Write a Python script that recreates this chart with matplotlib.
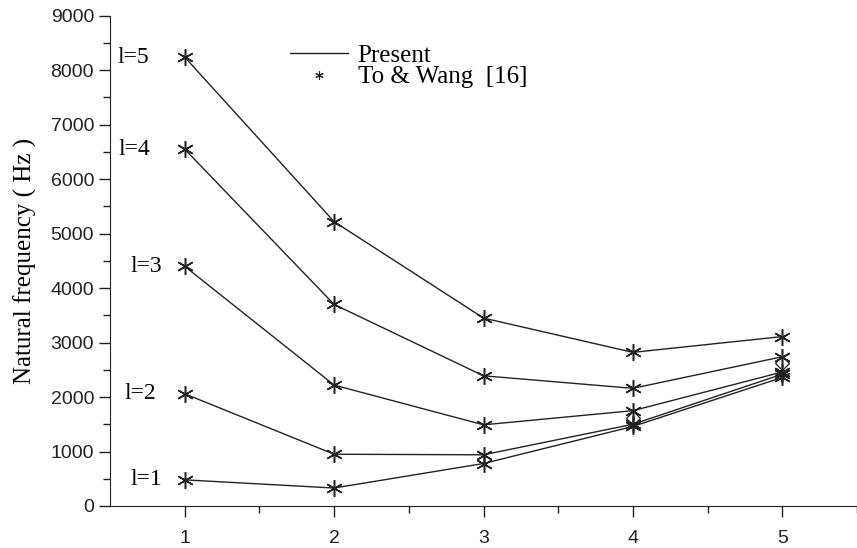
import numpy as np
import matplotlib
matplotlib.use("Agg")
from matplotlib import pyplot as plt
from matplotlib.lines import Line2D

#data
x = [1, 2, 3, 4, 5]
l1 = [480, 330, 780, 1460, 2360]
l2 = [2060, 950, 940, 1500, 2420]
l3 = [4400, 2220, 1490, 1750, 2460]
l4 = [6550, 3700, 2390, 2160, 2740]
l5 = [8240, 5220, 3450, 2820, 3110]
curves = [l1, l2, l3, l4, l5]
curve_labels = ["l=1", "l=2", "l=3", "l=4", "l=5"]
#extra hollow diamonds visible near x=4 and x=5
dia_x = [4, 5]
dia_y = [1610, 2630]

serif = "Liberation Serif"
sans = "Liberation Sans"

fig = plt.figure(figsize=(8.57, 5.48), dpi=100)
ax = fig.add_axes([110/857, 42/548, (857-110)/857, (506-15.7)/548])

star = (6, 2, 0)
for c in curves:
    ax.plot(x, c, "-", color="#222222", lw=1.0, marker=star, markersize=12,
            markeredgewidth=1.1, markeredgecolor="#222222")
ax.plot(dia_x, dia_y, ls="none", marker="D", markersize=7, markerfacecolor="none",
        markeredgecolor="#222222", markeredgewidth=0.9)

#curve labels left of first point
lab_x = [0.85, 0.81, 0.85, 0.77, 0.76]
for c, lab, lx in zip(curves, curve_labels, lab_x):
    ax.text(lx, c[0], lab, ha="right", va="center", family=serif, fontsize=17)

ax.set_xlim(0.5, 5.46)
ax.set_ylim(0, 9000)
ax.set_xticks([1, 2, 3, 4, 5])
ax.set_xticks([1.5, 2.5, 3.5, 4.5, 5.5], minor=True)
ax.set_yticks(np.arange(0, 9001, 1000))
ax.set_yticks(np.arange(500, 9000, 1000), minor=True)
ax.tick_params(axis="both", which="major", direction="out", length=8, width=1.0,
               labelsize=14, color="#222222", labelcolor="#222222")
ax.tick_params(axis="both", which="minor", direction="out", length=5, width=1.0, color="#222222")
ax.tick_params(axis="x", pad=9)
for t in ax.get_xticklabels() + ax.get_yticklabels():
    t.set_family(sans)
ax.spines["top"].set_visible(False)
ax.spines["right"].set_visible(False)
ax.spines["left"].set_color("#222222")
ax.spines["bottom"].set_color("#222222")
ax.set_ylabel("Natural frequency ( Hz )", family=serif, fontsize=18, labelpad=10)

handles = [Line2D([], [], color="#222222", lw=1.0),
           Line2D([], [], ls="none", marker=star, markersize=6, color="#222222", markeredgewidth=0.8)]
leg = ax.legend(handles, ["Present", "To & Wang  [16]"], loc="upper left",
                bbox_to_anchor=(290/857, 1-44/548), bbox_transform=fig.transFigure,
                frameon=False, prop={"family": serif, "size": 18}, handlelength=2.3,
                handletextpad=0.4, labelspacing=-0.02, borderpad=0, borderaxespad=0)

fig.savefig("out.png", dpi=100)
